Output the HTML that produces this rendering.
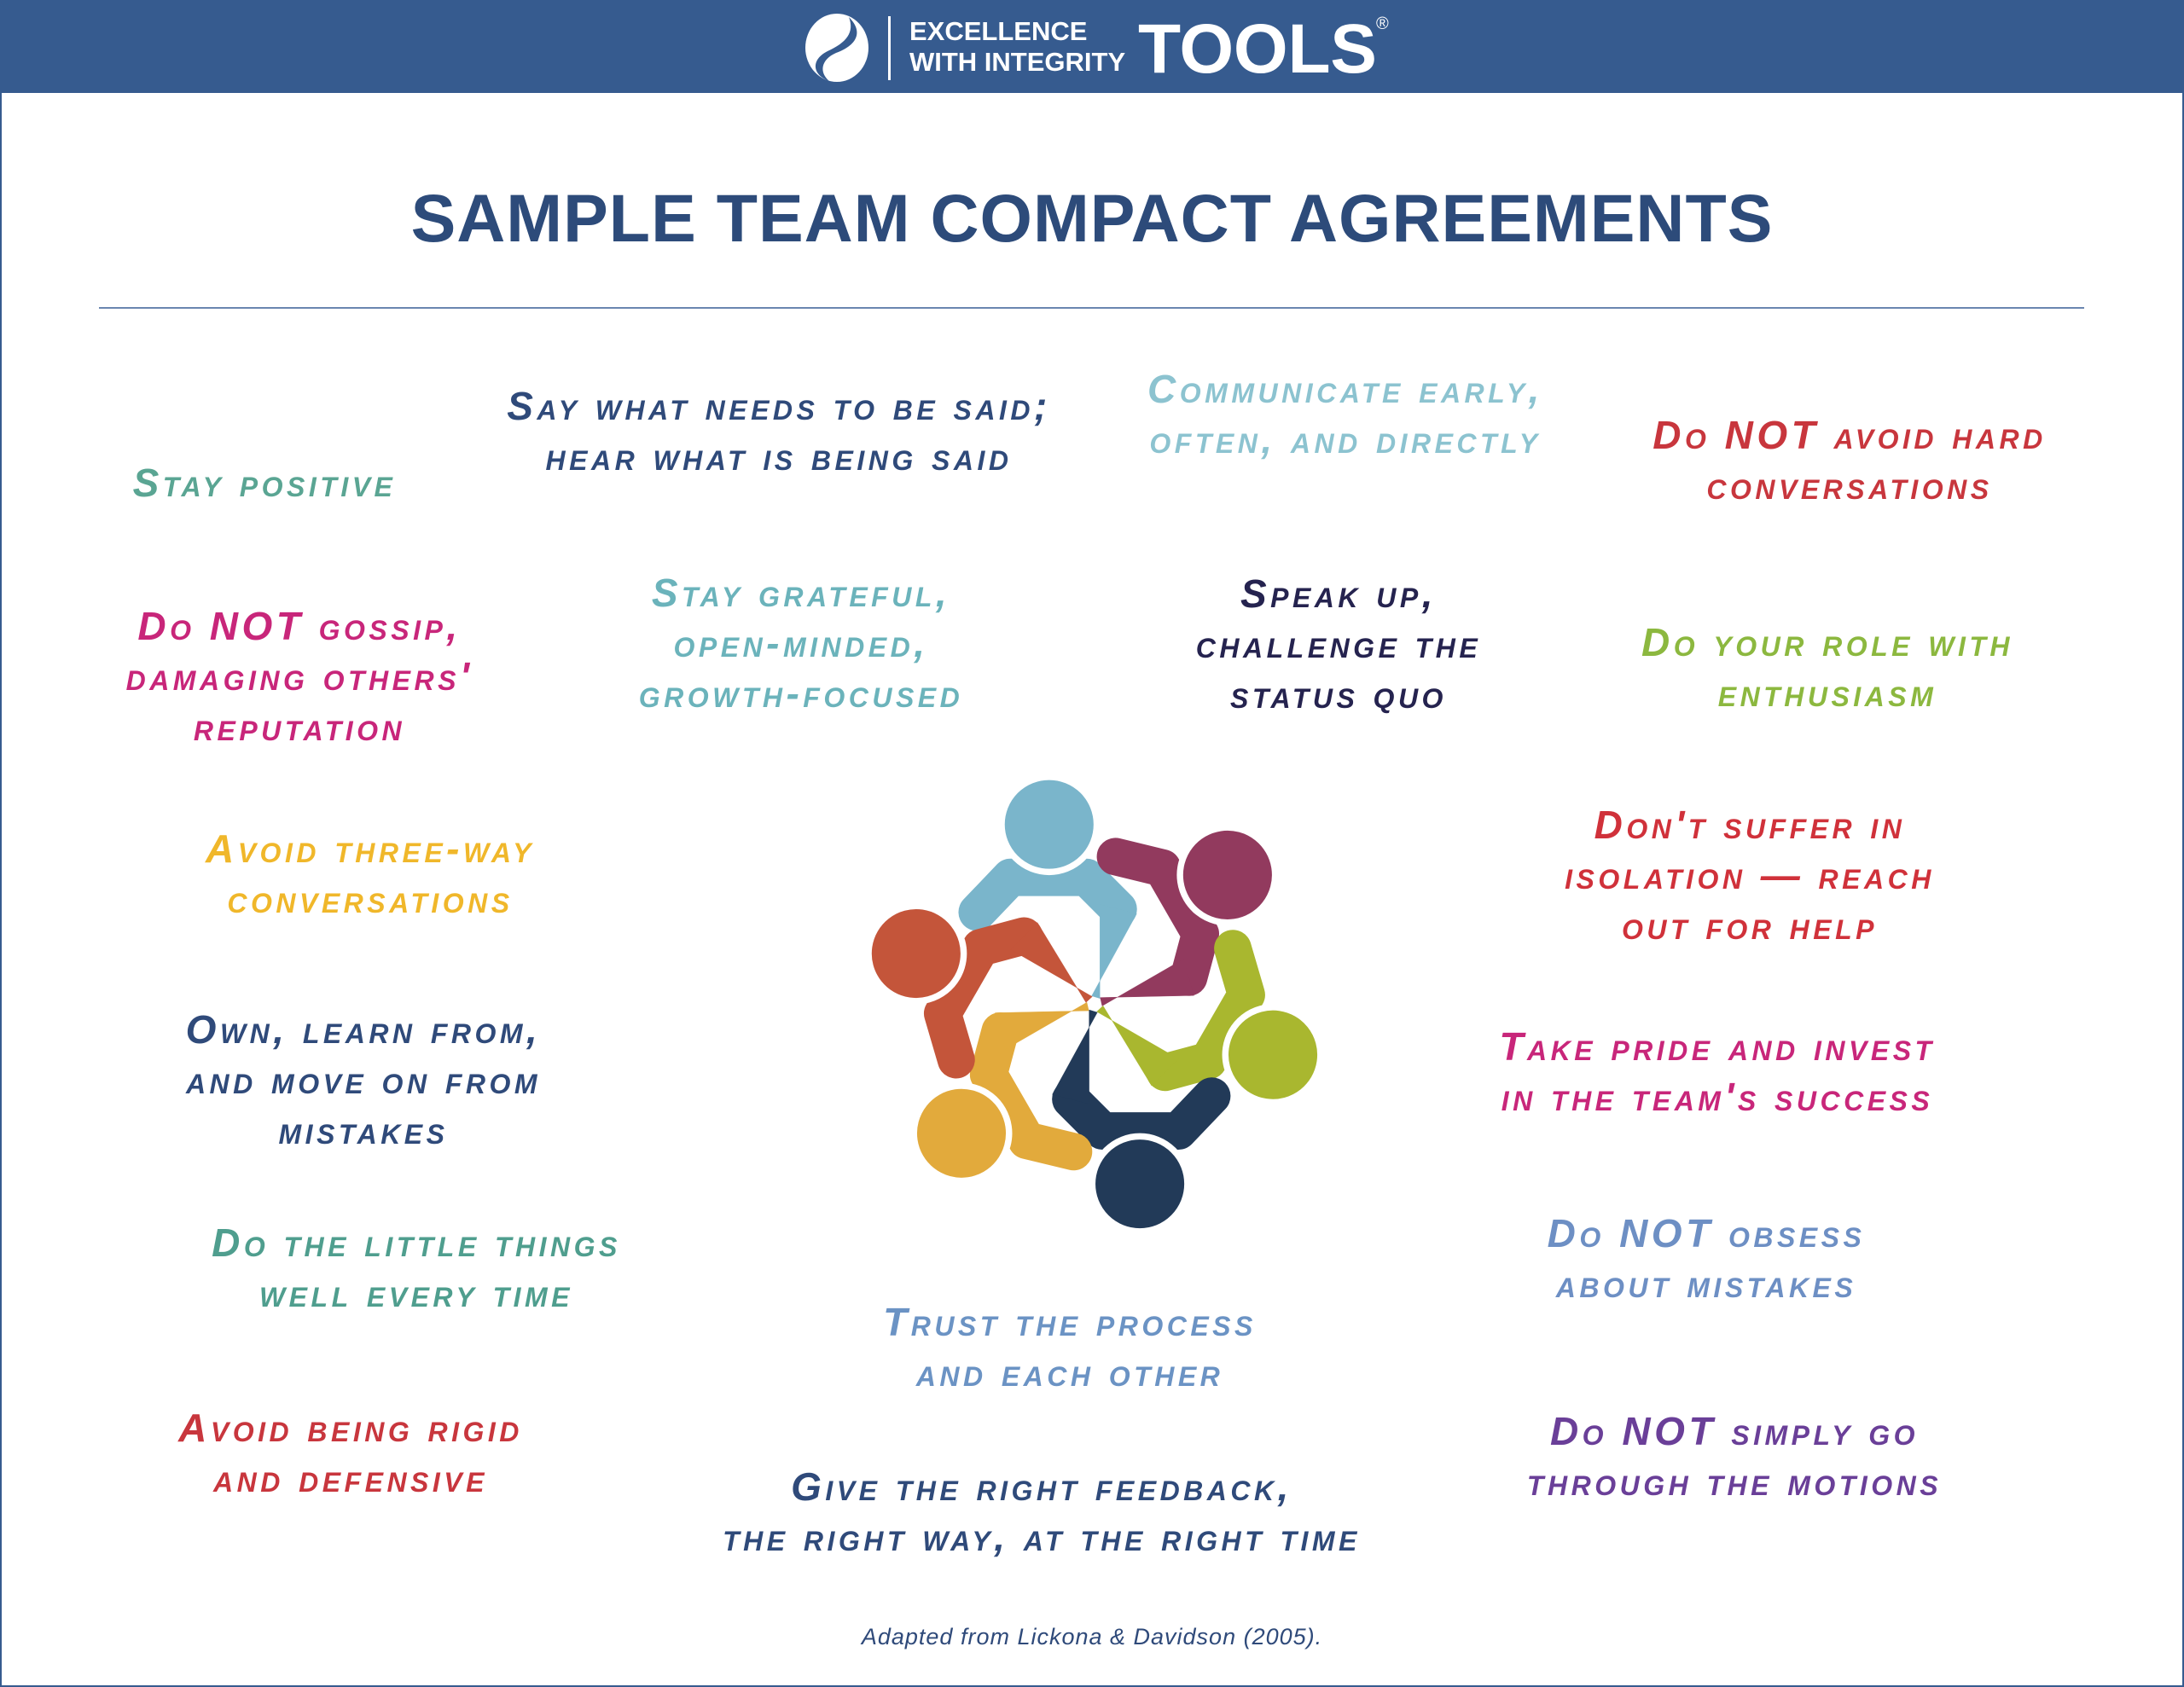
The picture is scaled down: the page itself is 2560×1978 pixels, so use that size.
<!DOCTYPE html>
<html><head><meta charset="utf-8">
<style>
html,body{margin:0;padding:0;}
body{width:2560px;height:1978px;position:relative;background:#fff;overflow:hidden;font-family:"Liberation Sans",sans-serif;}
.frame{position:absolute;left:0;top:0;width:2556px;height:1974px;border:2px solid #365b8f;}
.hdr{position:absolute;left:0;top:0;width:2560px;height:109px;background:#365b8f;}
.t{position:absolute;width:900px;text-align:center;line-height:59px;font-size:46px;font-weight:bold;font-style:italic;font-variant:small-caps;letter-spacing:4.5px;white-space:nowrap;}
</style></head><body>
<div class="frame"></div>
<div class="hdr"></div>
<svg style="position:absolute;left:0;top:0" width="2560" height="109">
  <ellipse cx="981" cy="56" rx="37" ry="40" fill="#fff"/>
  <path d="M995,20 C1015,40 1000,55 980,62 C962,70 960,85 972,95 C952,88 950,70 970,60 C992,50 1002,38 995,20Z" fill="#365b8f"/>
  <rect x="1041" y="19" width="3" height="75" fill="#fff"/>
  <text x="1066" y="47" fill="#fff" font-family="Liberation Sans" font-weight="bold" font-size="31">EXCELLENCE</text>
  <text x="1066" y="83" fill="#fff" font-family="Liberation Sans" font-weight="bold" font-size="31">WITH INTEGRITY</text>
  <text x="1334" y="85" fill="#fff" font-family="Liberation Sans" font-weight="bold" font-size="82" textLength="280">TOOLS</text>
  <text x="1613" y="34" fill="#fff" font-family="Liberation Sans" font-size="20">®</text>
</svg>
<div style="position:absolute;left:0;width:2560px;top:206px;text-align:center;font-size:79px;font-weight:bold;color:#2d4b7a;line-height:100px;letter-spacing:1px;">SAMPLE TEAM COMPACT AGREEMENTS</div>
<div style="position:absolute;left:116px;top:360px;width:2327px;height:2px;background:#6a86b0;"></div>

<svg style="position:absolute;left:0;top:0" width="2560" height="1978">
 <defs>
  <g id="arm">
   <polyline points="445,510 550,400 790,400 890,500" fill="none" stroke-width="118" stroke-linejoin="round" stroke-linecap="round"/>
   <polygon points="948,515 832,485 832,782 806,774"/>
  </g>
 </defs>
 <g transform="translate(980,880) scale(0.3717)">
  <g fill="#7ab5cb" stroke="#7ab5cb"><use href="#arm" transform="rotate(0 815 800)"/></g>
  <g fill="#923a5e" stroke="#923a5e"><use href="#arm" transform="rotate(60 815 800)"/></g>
  <g fill="#a9b72f" stroke="#a9b72f"><use href="#arm" transform="rotate(120 815 800)"/></g>
  <g fill="#223a58" stroke="#223a58"><use href="#arm" transform="rotate(180 815 800)"/></g>
  <g fill="#e2aa3c" stroke="#e2aa3c"><use href="#arm" transform="rotate(240 815 800)"/></g>
  <g fill="#c4553a" stroke="#c4553a"><use href="#arm" transform="rotate(300 815 800)"/></g>
  <g stroke="#fff" stroke-width="20">
   <circle cx="672" cy="233" r="150" fill="#7ab5cb" transform="rotate(0 815 800)"/>
   <circle cx="672" cy="233" r="150" fill="#923a5e" transform="rotate(60 815 800)"/>
   <circle cx="672" cy="233" r="150" fill="#a9b72f" transform="rotate(120 815 800)"/>
   <circle cx="672" cy="233" r="150" fill="#223a58" transform="rotate(180 815 800)"/>
   <circle cx="672" cy="233" r="150" fill="#e2aa3c" transform="rotate(240 815 800)"/>
   <circle cx="672" cy="233" r="150" fill="#c4553a" transform="rotate(300 815 800)"/>
  </g>
 </g>
</svg>

<div class="t" style="left:-140px;top:537px;color:#5aa593">Stay positive</div>
<div class="t" style="left:463px;top:447px;color:#2f4a7a">Say what needs to be said;<br>hear what is being said</div>
<div class="t" style="left:1127px;top:427px;color:#8cc3d0">Communicate early,<br>often, and directly</div>
<div class="t" style="left:1718px;top:481px;color:#c8363d">Do NOT avoid hard<br>conversations</div>
<div class="t" style="left:-99px;top:705px;color:#c8267a">Do NOT gossip,<br>damaging others'<br>reputation</div>
<div class="t" style="left:489px;top:666px;color:#6bb3bb">Stay grateful,<br>open-minded,<br>growth-focused</div>
<div class="t" style="left:1119px;top:667px;color:#25234f">Speak up,<br>challenge the<br>status quo</div>
<div class="t" style="left:1692px;top:724px;color:#8cb83f">Do your role with<br>enthusiasm</div>
<div class="t" style="left:-16px;top:966px;color:#f0b72a">Avoid three-way<br>conversations</div>
<div class="t" style="left:1601px;top:938px;color:#d0313a">Don't suffer in<br>isolation — reach<br>out for help</div>
<div class="t" style="left:-24px;top:1178px;color:#2f4a7a">Own, learn from,<br>and move on from<br>mistakes</div>
<div class="t" style="left:1563px;top:1198px;color:#c8267a">Take pride and invest<br>in the team's success</div>
<div class="t" style="left:38px;top:1428px;color:#4f9e8e">Do the little things<br>well every time</div>
<div class="t" style="left:1550px;top:1417px;color:#6d8fc4">Do NOT obsess<br>about mistakes</div>
<div class="t" style="left:804px;top:1521px;color:#6b93c4">Trust the process<br>and each other</div>
<div class="t" style="left:-39px;top:1645px;color:#c8363d">Avoid being rigid<br>and defensive</div>
<div class="t" style="left:1583px;top:1649px;color:#6a3f98">Do NOT simply go<br>through the motions</div>
<div class="t" style="left:771px;top:1714px;color:#2f4a7a">Give the right feedback,<br>the right way, at the right time</div>
<div style="position:absolute;left:0;width:2560px;top:1904px;text-align:center;font-size:27px;font-style:italic;color:#2f4a7a;letter-spacing:1px;">Adapted from Lickona &amp; Davidson (2005).</div>
</body></html>
